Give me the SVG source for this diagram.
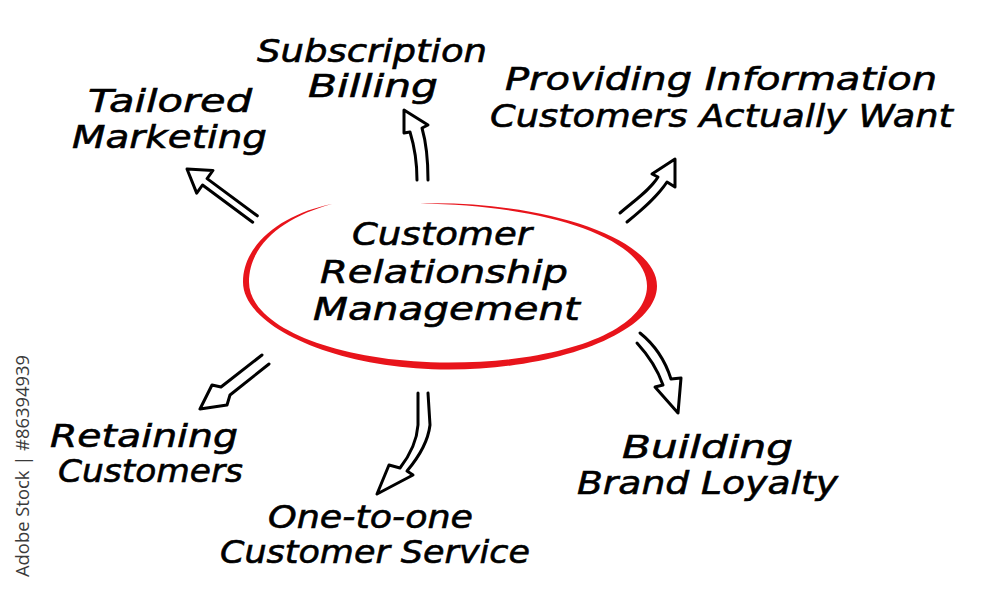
<svg xmlns="http://www.w3.org/2000/svg" width="1000" height="598" viewBox="0 0 1000 598">
  <style>
    .lbl { font-family: "DejaVu Sans", "Liberation Sans", sans-serif; font-style: italic; font-size: 32px; fill: #000; stroke: #000; stroke-width: 0.6; text-anchor: middle; }
    .arrow { fill: none; stroke: #000; stroke-width: 3; stroke-linejoin: round; stroke-linecap: round; }
    .wm { font-family: "Open Sans", "DejaVu Sans", sans-serif; font-size: 18px; fill: #3a3a3a; }
  </style>
  <rect x="0" y="0" width="1000" height="598" fill="#fff"/>

  <g id="center">
    <path fill="#e8141b" d="M420,203.5 C545,200.5 657,238 657,286 C657,331 561,369.5 449,369.5 C337,369.5 243,327 243,282 C243,243 284,213.5 332,204 C286,216.5 249,243 249,282 C249,327 337,362.5 449,362.5 C561,362.5 647,331 647,286 C647,238 545,205 420,203.5 Z"/>
    <text class="lbl" x="442" y="245" textLength="180" lengthAdjust="spacingAndGlyphs">Customer</text>
    <text class="lbl" x="444" y="283" textLength="248" lengthAdjust="spacingAndGlyphs">Relationship</text>
    <text class="lbl" x="446.5" y="320" textLength="267" lengthAdjust="spacingAndGlyphs">Management</text>
  </g>

  <g id="subscription-billing">
    <text class="lbl" x="372" y="62" textLength="230" lengthAdjust="spacingAndGlyphs">Subscription</text>
    <text class="lbl" x="373" y="97" textLength="130" lengthAdjust="spacingAndGlyphs">Billing</text>
  </g>
  <g id="tailored-marketing">
    <text class="lbl" x="170" y="112" textLength="164" lengthAdjust="spacingAndGlyphs">Tailored</text>
    <text class="lbl" x="169.5" y="148" textLength="195" lengthAdjust="spacingAndGlyphs">Marketing</text>
  </g>
  <g id="providing-information">
    <text class="lbl" x="721" y="90" textLength="432" lengthAdjust="spacingAndGlyphs">Providing Information</text>
    <text class="lbl" x="721.5" y="127" textLength="463" lengthAdjust="spacingAndGlyphs">Customers Actually Want</text>
  </g>
  <g id="retaining-customers">
    <text class="lbl" x="144" y="447" textLength="188" lengthAdjust="spacingAndGlyphs">Retaining</text>
    <text class="lbl" x="150.5" y="482" textLength="185" lengthAdjust="spacingAndGlyphs">Customers</text>
  </g>
  <g id="one-to-one">
    <text class="lbl" x="370.5" y="528" textLength="205" lengthAdjust="spacingAndGlyphs">One-to-one</text>
    <text class="lbl" x="375" y="563" textLength="310" lengthAdjust="spacingAndGlyphs">Customer Service</text>
  </g>
  <g id="brand-loyalty">
    <text class="lbl" x="707.5" y="458" textLength="171" lengthAdjust="spacingAndGlyphs">Building</text>
    <text class="lbl" x="707.5" y="494" textLength="261" lengthAdjust="spacingAndGlyphs">Brand Loyalty</text>
  </g>

  <g id="connectors">
    <path class="arrow" d="M257.3,215.8 L207.1,178.6 L212.9,170.5 L187,169 L196.7,193.1 L202.5,185 L252.7,222.2"/>
    <path class="arrow" d="M417,180 C417,160 414,145 410,132 L404,133 L404,110 L428,125 L422,128 C426,142 428,160 428,180"/>
    <path class="arrow" d="M620,213 C635,200 650,190 658,177 L652,174 L675,159 L675,187 L667,182 C657,197 643,209 627,222"/>
    <path class="arrow" d="M262,355 L221,387 L212,385 L200,409 L227,405 L230,395 L269,364"/>
    <path class="arrow" d="M418,393 L418,425 C417,440 410,455 400,468 L389,465 L377,494 L413,475 L407,471 C418,458 428,442 430,425 L428,393"/>
    <path class="arrow" d="M640,333 C655,345 665,360 671,379 L681,378 L678,413 L655,387 L663,385 C657,368 648,355 637,343"/>
  </g>

  <text class="wm" transform="translate(29,577) rotate(-90)" x="0" y="0" textLength="222" lengthAdjust="spacingAndGlyphs">Adobe Stock | #86394939</text>
</svg>
